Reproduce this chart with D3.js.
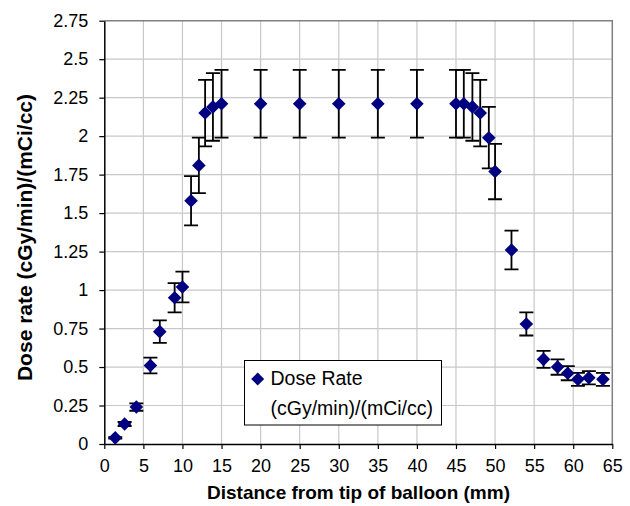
<!DOCTYPE html>
<html>
<head>
<meta charset="utf-8">
<script src="https://cdn.jsdelivr.net/npm/d3@7"></script>
<style>
  html, body { margin: 0; padding: 0; background: #fff; }
  svg { display: block; font-family: "Liberation Sans", Arial, sans-serif; }
</style>
</head>
<body>
<svg id="chart" width="630" height="506"></svg>
<script>
// Data
const distance = [1.4, 2.6, 4.1, 5.9, 7.1, 9.0, 10.0, 11.1, 12.1, 12.9, 13.9, 15.0, 20, 25, 30, 35, 40, 45, 46, 47.1, 48.1, 49.2, 50.0, 52.1, 54.0, 56.2, 58.0, 59.3, 60.6, 62.0, 63.8];
const doseRate = [0.04, 0.13, 0.24, 0.51, 0.73, 0.95, 1.02, 1.58, 1.81, 2.15, 2.19, 2.21, 2.21, 2.21, 2.21, 2.21, 2.21, 2.21, 2.21, 2.19, 2.15, 1.99, 1.77, 1.26, 0.78, 0.55, 0.50, 0.46, 0.42, 0.43, 0.42];
const errorBar = [0.005, 0.013, 0.024, 0.051, 0.073, 0.095, 0.10, 0.16, 0.18, 0.216, 0.22, 0.22, 0.22, 0.22, 0.22, 0.22, 0.22, 0.22, 0.22, 0.22, 0.216, 0.20, 0.18, 0.126, 0.075, 0.055, 0.05, 0.046, 0.042, 0.043, 0.042];
const xTicks = [0, 5, 10, 15, 20, 25, 30, 35, 40, 45, 50, 55, 60, 65];
const yTicks = [0, 0.25, 0.5, 0.75, 1, 1.25, 1.5, 1.75, 2, 2.25, 2.5, 2.75];
const seriesName = ["Dose Rate", "(cGy/min)/(mCi/cc)"];
const xTitle = "Distance from tip of balloon (mm)";
const yTitle = "Dose rate (cGy/min)/(mCi/cc)";

const svg = d3.select("#chart");
const pL = 104.3, pR = 612.3, pT = 20.7, pB = 444;

const x = d3.scaleLinear().domain([0, 65]).range([pL, pR]);
const y = d3.scaleLinear().domain([0, 2.75]).range([pB, pT]);

// gridlines
const grid = svg.append("g");
grid.selectAll("line.vx").data(xTicks.slice(1, -1)).join("line")
  .attr("x1", d => x(d)).attr("x2", d => x(d))
  .attr("y1", pT).attr("y2", pB)
  .attr("stroke", "#c8c8c8").attr("stroke-width", 1.2);
grid.selectAll("line.hy").data(yTicks.slice(1, -1)).join("line")
  .attr("x1", pL).attr("x2", pR)
  .attr("y1", d => y(d)).attr("y2", d => y(d))
  .attr("stroke", "#c8c8c8").attr("stroke-width", 1.2);

// plot border top/right
svg.append("path")
  .attr("d", `M${pL},${pT}H${pR}V${pB}`)
  .attr("fill", "none").attr("stroke", "#808080").attr("stroke-width", 1.5);

// axes
const xAxis = svg.append("g").attr("transform", `translate(0,${pB})`)
  .call(d3.axisBottom(x).tickValues(xTicks).tickSize(5).tickPadding(10).tickSizeOuter(0));
const yAxis = svg.append("g").attr("transform", `translate(${pL},0)`)
  .call(d3.axisLeft(y).tickValues(yTicks).tickSize(5).tickPadding(11).tickSizeOuter(0)
    .tickFormat(d => String(d)));
[xAxis, yAxis].forEach(g => {
  g.select(".domain").attr("stroke", "#000").attr("stroke-width", 1.5);
  g.selectAll(".tick line").attr("stroke", "#000").attr("stroke-width", 1.2);
  g.selectAll(".tick text").attr("fill", "#000").attr("font-size", 18)
    .attr("font-family", "'Liberation Sans', Arial, sans-serif");
});

// error bars
const capW = 7;
const eb = svg.append("g").attr("stroke", "#000").attr("stroke-width", 1.8).attr("fill", "none");
distance.forEach((d, i) => {
  const cx = x(d), y1 = y(doseRate[i] + errorBar[i]), y0 = y(doseRate[i] - errorBar[i]);
  eb.append("path").attr("d",
    `M${cx},${y1}V${y0}M${cx - capW},${y1}H${cx + capW}M${cx - capW},${y0}H${cx + capW}`);
});

// markers
const diamond = s => `M0,${-s}L${s},0L0,${s}L${-s},0Z`;
svg.append("g").selectAll("path").data(distance).join("path")
  .attr("transform", (d, i) => `translate(${x(d)},${y(doseRate[i])})`)
  .attr("d", diamond(6.8))
  .attr("fill", "#000080");

// axis titles
svg.append("text")
  .attr("x", 358.5).attr("y", 499)
  .attr("text-anchor", "middle")
  .attr("font-size", 19).attr("font-weight", "bold")
  .text(xTitle);
svg.append("text")
  .attr("transform", "translate(32,237.5) rotate(-90)")
  .attr("text-anchor", "middle")
  .attr("font-size", 21).attr("font-weight", "bold")
  .text(yTitle);

// legend
const lg = svg.append("g");
lg.append("rect").attr("x", 244.5).attr("y", 360.5).attr("width", 197).attr("height", 64.5)
  .attr("fill", "#fff").attr("stroke", "#000").attr("stroke-width", 1);
lg.append("path").attr("transform", "translate(257.7,379)").attr("d", diamond(6.5)).attr("fill", "#000080");
lg.append("text").attr("x", 270.5).attr("y", 385).attr("font-size", 19.5).text(seriesName[0]);
lg.append("text").attr("x", 270.5).attr("y", 414.5).attr("font-size", 19.5).text(seriesName[1]);
</script>
</body>
</html>
